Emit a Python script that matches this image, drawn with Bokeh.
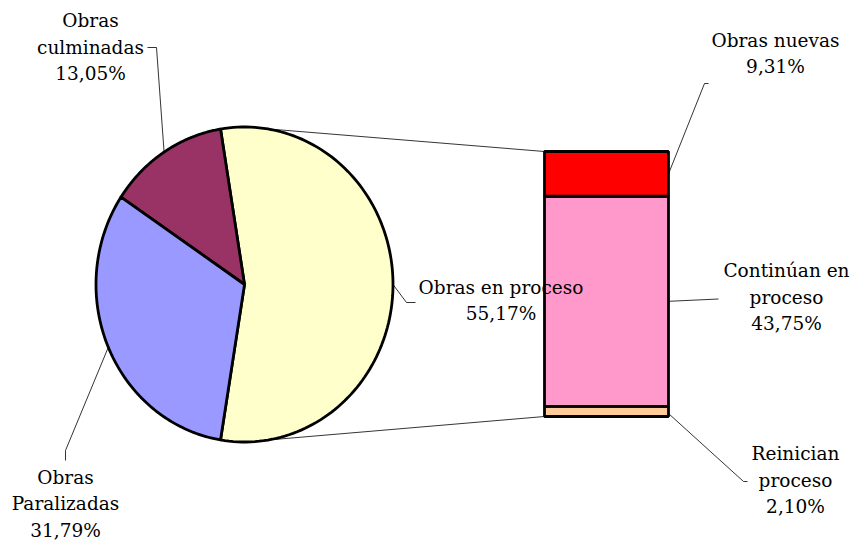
import numpy as np
from bokeh.plotting import figure
from bokeh.models import Range1d
from bokeh.core.properties import value
from bokeh.embed import file_html
from bokeh.resources import INLINE

# ---- data ----
pie_labels = ["Obras en proceso", "Obras\nculminadas", "Obras\nParalizadas"]
pie_values = [55.17, 13.05, 31.79]
pie_colors = ["#FFFFCC", "#993366", "#9999FF"]

bar_labels = ["Reinician\nproceso", "Continúan en\nproceso", "Obras nuevas"]
bar_values = [2.10, 43.75, 9.31]
bar_colors = ["#FFCC99", "#FF99CC", "#FF0000"]

# ---- layout ----
W, H = 851, 543
FONT = "DejaVu Serif"
FS = "18.5px"
LINE = 26.5
cx, cy, rx, ry = 244.0, 284.0, 148.5, 157.5
bx0, bx1, bbase, bheight = 544.0, 668.0, 416.0, 265.0

pie_label_pos = [(500.5, 300.0), (90.0, 46.5), (65.0, 503.0)]
bar_label_pos = [(795.0, 479.5), (786.0, 296.5), (775.0, 53.0)]
pie_leaders = [
    [None, (406, 302), (415, 302)],
    [None, (156, 47), (147, 47)],
    [None, (65, 450), (65, 460)],
]
bar_leaders = [
    [None, (743, 481), (747, 481)],
    [None, (718, 298.5)],
    [None, (704, 83), (708, 83)],
]

p = figure(width=W, height=H, x_range=Range1d(0, W), y_range=Range1d(H, 0),
           output_backend="svg", toolbar_location=None, min_border=0)
p.axis.visible = False
p.grid.visible = False
p.outline_line_color = None
p.background_fill_color = "white"

# ---- pie geometry from values ----
total = sum(pie_values)
spans = [v / total * 2 * np.pi for v in pie_values]
a = -spans[0] / 2.0
xs, ys, mids = [], [], []
for s in spans:
    t = np.linspace(a, a + s, 120)
    xs.append([cx] + list(cx + rx * np.cos(t)))
    ys.append([cy] + list(cy - ry * np.sin(t)))
    m = a + s / 2
    mids.append((cx + rx * np.cos(m), cy - ry * np.sin(m)))
    a += s

# ---- bar geometry from values ----
btotal = sum(bar_values)
scale = bheight / btotal
cum = np.concatenate([[0], np.cumsum(bar_values)])
bottoms = bbase - cum[:-1] * scale
tops = bbase - cum[1:] * scale

# connector lines pie -> bar
p.line([cx, bx0], [cy - ry, tops[-1]], line_color="black", line_width=0.8)
p.line([cx, bx0], [cy + ry, bbase], line_color="black", line_width=0.8)

p.patches(xs, ys, fill_color=pie_colors, line_color="black", line_width=2.8, line_join="round")

p.quad(left=bx0, right=bx1, bottom=bottoms, top=tops, fill_color=bar_colors,
       line_color="black", line_width=2.8)

# leader lines
for i, ld in enumerate(pie_leaders):
    pts = [mids[i]] + ld[1:]
    p.line([q[0] for q in pts], [q[1] for q in pts], line_color="black", line_width=0.8)
for i, ld in enumerate(bar_leaders):
    ymid = (bottoms[i] + tops[i]) / 2
    start = (bx1, ymid) if i != 0 else (bx1, bottoms[i] - 3)
    pts = [start] + ld[1:]
    p.line([q[0] for q in pts], [q[1] for q in pts], line_color="black", line_width=0.8)

def fmt(v):
    return ("%.2f%%" % v).replace(".", ",")

tx, ty, tt = [], [], []
def add_label(name, v, pos):
    lines = name.split("\n") + [fmt(v)]
    n = len(lines)
    for k, ln in enumerate(lines):
        tx.append(pos[0])
        ty.append(pos[1] + (k - (n - 1) / 2) * LINE)
        tt.append(ln)

for name, v, pos in zip(pie_labels, pie_values, pie_label_pos):
    add_label(name, v, pos)
for name, v, pos in zip(bar_labels, bar_values, bar_label_pos):
    add_label(name, v, pos)

p.text(x=tx, y=ty, text=tt, text_align="center", text_baseline="middle",
       text_font=value(FONT), text_font_size=FS, text_color="black")

open("out.html", "w").write(file_html(p, INLINE))
